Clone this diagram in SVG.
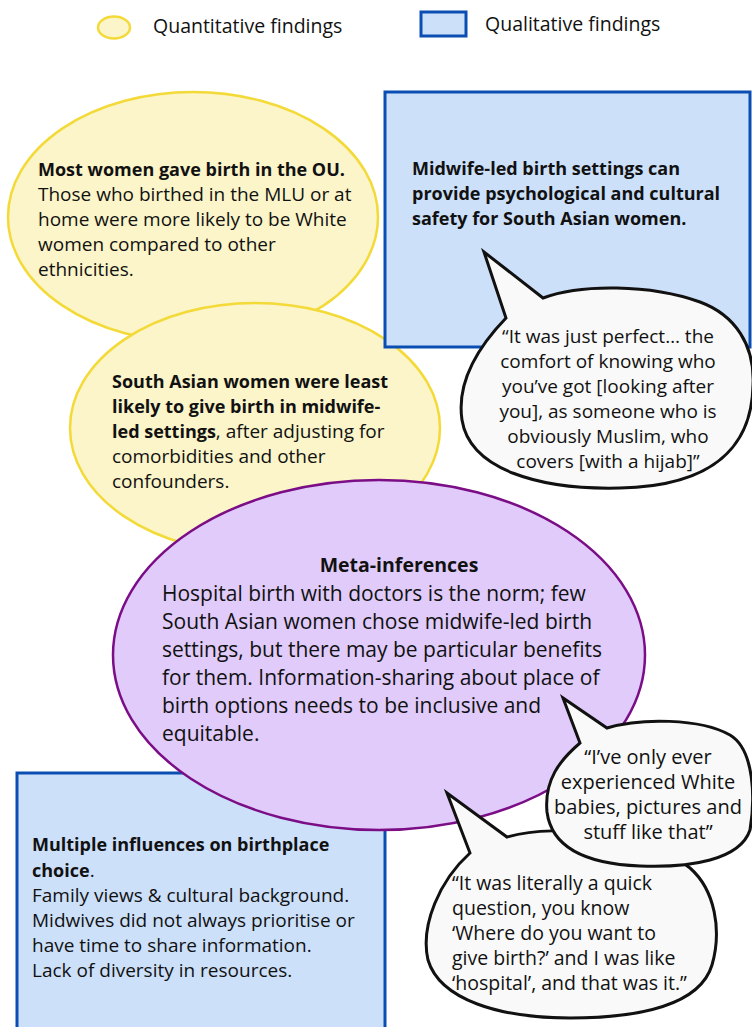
<svg xmlns="http://www.w3.org/2000/svg" width="752" height="1027" viewBox="0 0 752 1027">
<defs>
<style>
.t{font-family:"Open Sans","Liberation Sans",sans-serif;font-size:19px;fill:#111}
.b{font-weight:bold;font-size:18px}
.m{font-size:21px}
.mt{font-weight:bold;font-size:19.5px}
.q2{font-size:20px}
.q3{font-size:19.5px}
.lg{font-size:19.5px}
.c{text-anchor:middle}
.yel{fill:#fbf5c9;stroke:#f3da38;stroke-width:2.5}
.blu{fill:#cce0fa;stroke:#0b4eb3;stroke-width:3}
.pur{fill:#e0cbfa;stroke:#7b0d86;stroke-width:2.5}
.bub{fill:#f9f9f9;stroke:#111;stroke-width:3;stroke-linejoin:miter}
</style>
</defs>
<rect width="752" height="1027" fill="#fff"/>
<g id="legend">
<ellipse class="yel" cx="114" cy="27.5" rx="16" ry="11"/>
<text class="t lg" x="153" y="33">Quantitative findings</text>
<rect class="blu" x="421" y="12" width="45" height="24"/>
<text class="t lg" x="485" y="31">Qualitative findings</text>
</g>
<g id="quant1">
<ellipse class="yel" cx="193" cy="217" rx="185" ry="125"/>
<text class="t"><tspan class="b" x="38" y="176">Most women gave birth in the OU.</tspan><tspan x="38" y="201">Those who birthed in the MLU or at</tspan><tspan x="38" y="226">home were more likely to be White</tspan><tspan x="38" y="251">women compared to other</tspan><tspan x="38" y="276">ethnicities.</tspan></text>
</g>
<g id="quant2">
<ellipse class="yel" cx="255" cy="428" rx="185" ry="125"/>
<text class="t"><tspan class="b" x="112" y="388">South Asian women were least</tspan><tspan class="b" x="112" y="413">likely to give birth in midwife-</tspan><tspan x="112" y="438"><tspan class="b">led settings</tspan>, after adjusting for</tspan><tspan x="112" y="463">comorbidities and other</tspan><tspan x="112" y="488">confounders.</tspan></text>
</g>
<g id="qual1">
<rect class="blu" x="385" y="92" width="365" height="255"/>
<text class="t b"><tspan x="412" y="175">Midwife-led birth settings can</tspan><tspan x="412" y="200">provide psychological and cultural</tspan><tspan x="412" y="225">safety for South Asian women.</tspan></text>
</g>
<g id="quote1">
<path class="bub" d="M543 298 C580 284 650 284 700 302 C735 315 755 345 753 385 C752 445 715 486 620 488 C540 490 470 470 462 420 C456 380 480 345 506 318 L484 252 Z"/>
<text class="t c"><tspan x="608" y="343">“It was just perfect… the</tspan><tspan x="608" y="368">comfort of knowing who</tspan><tspan x="608" y="393">you’ve got [looking after</tspan><tspan x="608" y="418">you], as someone who is</tspan><tspan x="608" y="443">obviously Muslim, who</tspan><tspan x="608" y="468">covers [with a hijab]”</tspan></text>
</g>
<g id="qual2">
<rect class="blu" x="17" y="773" width="368" height="270"/>
<text class="t"><tspan x="32" y="851"><tspan class="b">Multiple influences on birthplace</tspan></tspan><tspan x="32" y="877"><tspan class="b">choice</tspan>.</tspan><tspan x="32" y="902">Family views &amp; cultural background.</tspan><tspan x="32" y="927">Midwives did not always prioritise or</tspan><tspan x="32" y="952">have time to share information.</tspan><tspan x="32" y="977">Lack of diversity in resources.</tspan></text>
</g>
<g id="meta">
<ellipse class="pur" cx="379" cy="655" rx="266" ry="175"/>
<text class="t m"><tspan class="mt c" x="399" y="572">Meta-inferences</tspan><tspan x="162" y="601">Hospital birth with doctors is the norm; few</tspan><tspan x="162" y="629">South Asian women chose midwife-led birth</tspan><tspan x="162" y="657">settings, but there may be particular benefits</tspan><tspan x="162" y="685">for them. Information-sharing about place of</tspan><tspan x="162" y="713">birth options needs to be inclusive and</tspan><tspan x="162" y="741">equitable.</tspan></text>
</g>
<g id="quote3">
<path class="bub" d="M507 837 C560 822 650 835 690 868 C715 890 722 930 712 965 C700 1005 640 1018 570 1018 C500 1018 440 1000 428 960 C420 925 440 880 470 853 L447 793 Z"/>
<text class="t q3"><tspan x="452" y="890">“It was literally a quick</tspan><tspan x="452" y="915">question, you know</tspan><tspan x="452" y="940">‘Where do you want to</tspan><tspan x="452" y="965">give birth?’ and I was like</tspan><tspan x="452" y="990">‘hospital’, and that was it.”</tspan></text>
</g>
<g id="quote2">
<path class="bub" d="M607 728 C640 718 700 718 730 735 C755 750 755 800 750 830 C740 860 690 868 640 866 C590 864 552 850 547 812 C544 780 560 760 580 743 L563 698 Z"/>
<text class="t c q2"><tspan x="648" y="764">“I’ve only ever</tspan><tspan x="648" y="789">experienced White</tspan><tspan x="648" y="814">babies, pictures and</tspan><tspan x="648" y="839">stuff like that”</tspan></text>
</g>
<g id="connectors"></g>
</svg>
